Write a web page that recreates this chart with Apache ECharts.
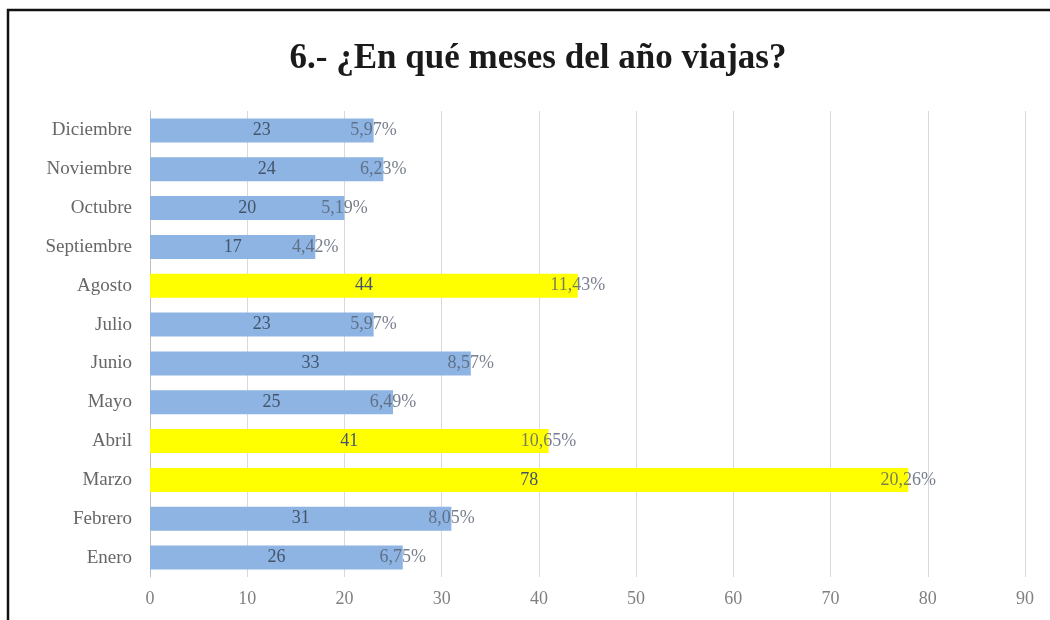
<!DOCTYPE html>
<html>
<head>
<meta charset="utf-8">
<script src="https://cdn.jsdelivr.net/npm/echarts@6/dist/echarts.min.js"></script>
<style>
html,body{margin:0;padding:0;background:#fff;}
#chart{width:1050px;height:620px;}
</style>
</head>
<body>
<div id="chart"></div>
<script>
var titleText = '6.- ¿En qué meses del año viajas?';
var months = ['Enero','Febrero','Marzo','Abril','Mayo','Junio','Julio','Agosto','Septiembre','Octubre','Noviembre','Diciembre'];
var counts = [26, 31, 78, 41, 25, 33, 23, 44, 17, 20, 24, 23];
var percents = ['6,75%','8,05%','20,26%','10,65%','6,49%','8,57%','5,97%','11,43%','4,42%','5,19%','6,23%','5,97%'];
var highlighted = ['Marzo','Abril','Agosto'];
var xTicks = [0, 10, 20, 30, 40, 50, 60, 70, 80, 90];

var FONT = '"Liberation Serif", "Times New Roman", serif';
var chart = echarts.init(document.getElementById('chart'));

var barData = counts.map(function (v, i) {
  return {
    value: v,
    itemStyle: { color: highlighted.indexOf(months[i]) >= 0 ? '#FFFF00' : '#8DB4E2' }
  };
});
var pctData = counts.map(function (v, i) { return [v, i, percents[i]]; });

chart.setOption({
  animation: false,
  backgroundColor: '#fff',
  title: {
    text: titleText,
    left: 533,
    textAlign: 'center',
    top: 36,
    textStyle: { fontFamily: FONT, fontWeight: 'bold', fontSize: 35, color: '#1a1a1a' }
  },
  graphic: [{
    type: 'rect',
    shape: { x: 8, y: 10, width: 1100, height: 700 },
    style: { fill: 'none', stroke: '#111', lineWidth: 2.5 },
    z: 100
  }],
  grid: { left: 150, right: 25, top: 111, bottom: 43, containLabel: false },
  xAxis: {
    type: 'value',
    min: xTicks[0],
    max: xTicks[xTicks.length - 1],
    interval: xTicks[1] - xTicks[0],
    axisLine: { show: false },
    axisTick: { show: false },
    splitLine: { show: true, lineStyle: { color: '#d9d9d9', width: 1 } },
    axisLabel: { color: '#808080', fontFamily: FONT, fontSize: 18, margin: 13 }
  },
  yAxis: {
    type: 'category',
    data: months,
    axisLine: { show: true, lineStyle: { color: '#bfbfbf', width: 1 } },
    axisTick: { show: false },
    axisLabel: { color: '#666666', fontFamily: FONT, fontSize: 19, margin: 18 }
  },
  series: [
    {
      type: 'bar',
      data: barData,
      barWidth: 24,
      label: {
        show: true,
        position: 'inside',
        color: '#44546a',
        fontFamily: FONT,
        fontSize: 18
      }
    },
    {
      type: 'scatter',
      data: pctData,
      symbolSize: 1,
      itemStyle: { color: 'rgba(0,0,0,0)' },
      z: 5,
      label: {
        show: true,
        position: 'inside',
        formatter: function (p) { return p.data[2]; },
        color: '#555f70',
        fontFamily: FONT,
        fontSize: 18
      }
    }
  ]
});
</script>
</body>
</html>
